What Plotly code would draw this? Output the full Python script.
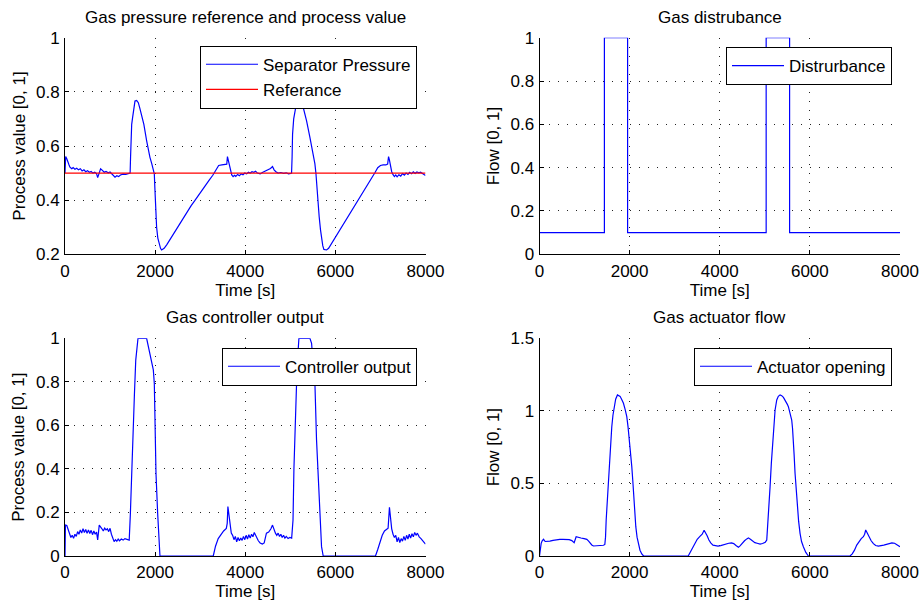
import plotly.graph_objects as go

# ---------------------------------------------------------------- data
# Separator pressure (process value) and its reference
pressure_t = [0, 15, 40, 60, 90, 110, 150, 180, 220, 260, 300, 340, 380, 420, 460, 500, 540, 580,
              620, 660, 700, 725, 760, 790, 830, 870, 910, 960, 1000, 1040, 1080, 1110, 1150, 1190,
              1230, 1290, 1350, 1410, 1445, 1455, 1464, 1480, 1500, 1525, 1553, 1590, 1627, 1660,
              1700, 1750, 1811, 1850, 1885, 1925, 1960, 1982, 1993, 2004, 2018, 2033, 2060, 2093,
              2120, 2144, 2200, 2260, 2320, 2400, 2480, 2560, 2640, 2720, 2800, 2880, 2960, 3040,
              3120, 3200, 3280, 3350, 3410, 3480, 3560, 3590, 3605, 3625, 3650, 3670, 3700, 3730,
              3760, 3790, 3830, 3870, 3910, 3950, 3990, 4030, 4070, 4110, 4150, 4190, 4230, 4270,
              4330, 4390, 4450, 4510, 4560, 4605, 4640, 4680, 4730, 4790, 4850, 4910, 4960, 5010,
              5028, 5040, 5050, 5075, 5102, 5130, 5161, 5213, 5287, 5361, 5435, 5508, 5545, 5568,
              5583, 5610, 5641, 5670, 5693, 5720, 5745, 5804, 5850, 5910, 5970, 6030, 6100, 6180,
              6260, 6340, 6420, 6500, 6580, 6660, 6740, 6820, 6880, 6940, 7000, 7060, 7120, 7160,
              7180, 7200, 7220, 7250, 7280, 7310, 7340, 7370, 7410, 7450, 7490, 7530, 7570, 7610,
              7650, 7690, 7730, 7770, 7810, 7850, 7890, 7930, 7970, 8000]
pressure_v = [0.500, 0.561, 0.553, 0.546, 0.530, 0.522, 0.516, 0.520, 0.514, 0.518, 0.512, 0.516,
              0.508, 0.512, 0.505, 0.509, 0.503, 0.506, 0.500, 0.503, 0.498, 0.483, 0.505, 0.516,
              0.510, 0.503, 0.506, 0.501, 0.504, 0.497, 0.490, 0.485, 0.490, 0.487, 0.493, 0.496,
              0.495, 0.498, 0.500, 0.560, 0.644, 0.680, 0.705, 0.740, 0.766, 0.768, 0.760, 0.740,
              0.717, 0.680, 0.620, 0.585, 0.558, 0.535, 0.516, 0.497, 0.450, 0.400, 0.340, 0.300,
              0.260, 0.234, 0.222, 0.216, 0.222, 0.236, 0.252, 0.275, 0.295, 0.318, 0.335, 0.358,
              0.380, 0.398, 0.418, 0.436, 0.455, 0.474, 0.492, 0.512, 0.528, 0.530, 0.531, 0.533,
              0.561, 0.545, 0.528, 0.505, 0.493, 0.487, 0.492, 0.488, 0.495, 0.490, 0.497, 0.494,
              0.500, 0.497, 0.503, 0.500, 0.505, 0.503, 0.507, 0.500, 0.497, 0.503, 0.508, 0.512,
              0.517, 0.524, 0.512, 0.505, 0.500, 0.502, 0.499, 0.501, 0.497, 0.499, 0.500, 0.560,
              0.644, 0.700, 0.730, 0.752, 0.766, 0.764, 0.742, 0.693, 0.632, 0.571, 0.535, 0.500,
              0.460, 0.400, 0.338, 0.290, 0.253, 0.232, 0.218, 0.216, 0.222, 0.238, 0.255, 0.272,
              0.290, 0.312, 0.332, 0.354, 0.376, 0.398, 0.418, 0.440, 0.462, 0.482, 0.502, 0.520,
              0.528, 0.530, 0.530, 0.533, 0.561, 0.548, 0.530, 0.505, 0.494, 0.487, 0.493, 0.486,
              0.494, 0.489, 0.498, 0.492, 0.500, 0.495, 0.503, 0.498, 0.505, 0.499, 0.504, 0.501,
              0.503, 0.498, 0.496, 0.491]
reference_t = [0, 8000]
reference_v = [0.5, 0.5]

# Gas disturbance (step profile)
disturbance_t = [0, 1440, 1955, 5030, 5550, 8000]
disturbance_v = [0.1, 1.0, 0.1, 1.0, 0.1, 0.1]

# Controller output
controller_t = [0, 10, 40, 70, 100, 130, 160, 190, 220, 250, 280, 310, 340, 370, 400, 430, 460, 490,
                520, 550, 580, 610, 640, 670, 700, 725, 760, 790, 820, 850, 880, 910, 940, 970, 1000,
                1030, 1060, 1090, 1120, 1150, 1180, 1210, 1250, 1290, 1330, 1380, 1425, 1450, 1480,
                1510, 1540, 1570, 1600, 1620, 1811, 1870, 1922, 1960, 1982, 1990, 2019, 2056, 2085,
                2107, 3290, 3340, 3400, 3460, 3520, 3580, 3600, 3615, 3635, 3660, 3690, 3720, 3750,
                3780, 3810, 3840, 3870, 3900, 3930, 3960, 3990, 4020, 4050, 4080, 4110, 4140, 4170,
                4200, 4230, 4260, 4290, 4330, 4380, 4420, 4470, 4520, 4570, 4605, 4640, 4670, 4700,
                4730, 4760, 4790, 4820, 4850, 4880, 4910, 4950, 4990, 5030, 5060, 5080, 5100, 5120,
                5140, 5160, 5191, 5435, 5472, 5523, 5545, 5582, 5620, 5657, 5693, 5730, 6890, 6940,
                6990, 7040, 7090, 7140, 7170, 7200, 7225, 7250, 7280, 7310, 7340, 7370, 7400, 7430,
                7460, 7490, 7520, 7550, 7580, 7610, 7640, 7670, 7700, 7730, 7760, 7790, 7820, 7860,
                7900, 7950, 8000]
controller_v = [0.000, 0.142, 0.140, 0.120, 0.104, 0.085, 0.095, 0.081, 0.100, 0.090, 0.112, 0.100,
                0.120, 0.105, 0.125, 0.108, 0.122, 0.104, 0.120, 0.103, 0.118, 0.098, 0.115, 0.100,
                0.110, 0.074, 0.142, 0.130, 0.125, 0.115, 0.128, 0.120, 0.125, 0.112, 0.127, 0.100,
                0.080, 0.066, 0.075, 0.068, 0.078, 0.070, 0.078, 0.073, 0.080, 0.075, 0.073, 0.190,
                0.400, 0.600, 0.740, 0.900, 0.985, 1.000, 1.000, 0.946, 0.893, 0.855, 0.793, 0.670,
                0.380, 0.196, 0.074, 0.000, 0.000, 0.045, 0.080, 0.100, 0.115, 0.127, 0.150, 0.227,
                0.195, 0.140, 0.105, 0.095, 0.075, 0.090, 0.065, 0.085, 0.070, 0.082, 0.072, 0.090,
                0.075, 0.095, 0.078, 0.098, 0.082, 0.100, 0.088, 0.108, 0.095, 0.085, 0.070, 0.060,
                0.055, 0.060, 0.105, 0.110, 0.125, 0.142, 0.120, 0.105, 0.095, 0.105, 0.090, 0.100,
                0.085, 0.095, 0.082, 0.090, 0.080, 0.085, 0.082, 0.165, 0.400, 0.560, 0.700, 0.800,
                0.900, 1.000, 1.000, 0.977, 0.839, 0.800, 0.533, 0.380, 0.165, 0.043, 0.000, 0.000,
                0.030, 0.065, 0.095, 0.115, 0.125, 0.128, 0.224, 0.170, 0.125, 0.100, 0.085, 0.095,
                0.065, 0.085, 0.062, 0.080, 0.068, 0.090, 0.072, 0.095, 0.078, 0.100, 0.082, 0.102,
                0.088, 0.108, 0.095, 0.105, 0.088, 0.080, 0.068, 0.055]

# Actuator flow
actuator_t = [0, 20, 37, 60, 89, 126, 170, 230, 300, 384, 450, 520, 606, 660, 717, 769, 813, 860,
              920, 990, 1050, 1090, 1124, 1160, 1198, 1260, 1320, 1380, 1420, 1450, 1465, 1480, 1495,
              1515, 1545, 1575, 1604, 1630, 1656, 1690, 1730, 1789, 1830, 1863, 1900, 1937, 1965,
              1996, 2020, 2048, 2070, 2085, 2110, 2137, 2165, 2196, 2230, 2270, 2310, 3300, 3350,
              3400, 3450, 3500, 3560, 3610, 3653, 3680, 3720, 3760, 3800, 3850, 3900, 3960, 4020,
              4080, 4140, 4200, 4260, 4310, 4360, 4414, 4450, 4500, 4550, 4600, 4636, 4680, 4730,
              4780, 4830, 4895, 4950, 5010, 5043, 5060, 5080, 5100, 5117, 5145, 5176, 5200, 5228,
              5265, 5300, 5339, 5375, 5413, 5460, 5500, 5523, 5560, 5597, 5615, 5634, 5650, 5671,
              5695, 5723, 5750, 5782, 5815, 5856, 5910, 5967, 6891, 6940, 6990, 7040, 7090, 7140,
              7187, 7215, 7239, 7270, 7310, 7360, 7410, 7460, 7520, 7580, 7640, 7700, 7760, 7820,
              7880, 7930, 7970, 8000]
actuator_v = [0.000, 0.060, 0.087, 0.105, 0.115, 0.100, 0.100, 0.103, 0.108, 0.113, 0.115, 0.115,
              0.115, 0.113, 0.106, 0.092, 0.133, 0.128, 0.124, 0.120, 0.115, 0.103, 0.087, 0.076,
              0.069, 0.069, 0.069, 0.070, 0.074, 0.080, 0.130, 0.250, 0.330, 0.480, 0.616, 0.780,
              0.891, 0.970, 1.029, 1.080, 1.110, 1.100, 1.075, 1.052, 1.010, 0.960, 0.890, 0.800,
              0.720, 0.616, 0.520, 0.432, 0.310, 0.202, 0.130, 0.087, 0.040, 0.014, 0.000, 0.000,
              0.030, 0.060, 0.095, 0.115, 0.135, 0.150, 0.178, 0.165, 0.140, 0.110, 0.090, 0.075,
              0.070, 0.068, 0.072, 0.078, 0.082, 0.088, 0.090, 0.085, 0.072, 0.060, 0.070, 0.090,
              0.105, 0.118, 0.125, 0.115, 0.100, 0.092, 0.088, 0.082, 0.086, 0.095, 0.110, 0.180,
              0.271, 0.380, 0.478, 0.640, 0.800, 0.910, 1.006, 1.075, 1.100, 1.110, 1.105, 1.093,
              1.070, 1.045, 1.029, 0.990, 0.937, 0.880, 0.800, 0.700, 0.570, 0.450, 0.340, 0.240,
              0.156, 0.100, 0.064, 0.025, 0.000, 0.000, 0.015, 0.040, 0.075, 0.100, 0.120, 0.133,
              0.150, 0.179, 0.160, 0.130, 0.105, 0.085, 0.072, 0.068, 0.070, 0.075, 0.080, 0.087,
              0.090, 0.088, 0.080, 0.072, 0.064]

# Axis ticks
time_ticks = [0, 2000, 4000, 6000, 8000]
time_labels = ["0", "2000", "4000", "6000", "8000"]
pressure_ticks = [0.2, 0.4, 0.6, 0.8, 1.0]
pressure_labels = ["0.2", "0.4", "0.6", "0.8", "1"]
unit_ticks = [0, 0.2, 0.4, 0.6, 0.8, 1.0]
unit_labels = ["0", "0.2", "0.4", "0.6", "0.8", "1"]
actuator_ticks = [0, 0.5, 1.0, 1.5]
actuator_labels = ["0", "0.5", "1", "1.5"]

# ---------------------------------------------------------------- styling
W, H = 921, 601
FONT = "Liberation Sans, Arial, Helvetica, sans-serif"
FS = 17
BLUE = "#0000ff"
RED = "#ff0000"

col_x = [(65 / W, 425.5 / W), (539.5 / W, 900 / W)]
row_y = [(1 - 254.3 / H, 1 - 37.7 / H), (1 - 556 / H, 1 - 338.3 / H)]


def xaxis_cfg(domain, anchor):
    return dict(domain=domain, anchor=anchor, range=[0, 8000], automargin=False,
                tickvals=time_ticks, ticktext=time_labels,
                showline=True, linecolor="black", linewidth=1, mirror=False,
                ticks="inside", ticklen=4, tickcolor="black",
                showgrid=True, gridcolor="#222", gridwidth=1, griddash="1px,8px",
                zeroline=False, ticklabelstandoff=1,
                title=dict(text="Time [s]", font=dict(size=FS), standoff=0))


def yaxis_cfg(domain, anchor, rng, vals, labels, title):
    return dict(domain=domain, anchor=anchor, range=rng, automargin=False,
                tickvals=vals, ticktext=labels,
                showline=True, linecolor="black", linewidth=1, mirror=False,
                ticks="inside", ticklen=4, tickcolor="black",
                showgrid=True, gridcolor="#222", gridwidth=1, griddash="1px,8px",
                zeroline=False, ticklabelstandoff=1,
                title=dict(text=title, font=dict(size=FS), standoff=6))


def legend_cfg(x, y):
    return dict(x=x, y=y, xanchor="right", yanchor="top",
                bordercolor="black", borderwidth=1, bgcolor="white",
                font=dict(size=FS, family=FONT, color="black"),
                itemwidth=52, tracegroupgap=0)


fig = go.Figure()

fig.add_trace(go.Scatter(x=pressure_t, y=pressure_v, mode="lines", name="Separator Pressure",
                         line=dict(color=BLUE, width=1.2), xaxis="x", yaxis="y", legend="legend"))
fig.add_trace(go.Scatter(x=reference_t, y=reference_v, mode="lines", name="Referance",
                         line=dict(color=RED, width=1.2), xaxis="x", yaxis="y", legend="legend"))
fig.add_trace(go.Scatter(x=disturbance_t, y=disturbance_v, mode="lines", name="Distrurbance",
                         line=dict(color=BLUE, width=1.2, shape="hv"), xaxis="x2", yaxis="y2",
                         legend="legend2"))
fig.add_trace(go.Scatter(x=controller_t, y=controller_v, mode="lines", name="Controller output",
                         line=dict(color=BLUE, width=1.2), xaxis="x3", yaxis="y3", legend="legend3"))
fig.add_trace(go.Scatter(x=actuator_t, y=actuator_v, mode="lines", name="Actuator opening",
                         line=dict(color=BLUE, width=1.2), xaxis="x4", yaxis="y4", legend="legend4"))

titles = ["Gas pressure reference and process value", "Gas distrubance",
          "Gas controller output", "Gas actuator flow"]
annotations = []
for i, text in enumerate(titles):
    r, c = divmod(i, 2)
    annotations.append(dict(text=text, xref="paper", yref="paper",
                            x=(col_x[c][0] + col_x[c][1]) / 2, y=row_y[r][1],
                            xanchor="center", yanchor="bottom", yshift=9, showarrow=False,
                            font=dict(size=FS, family=FONT, color="black")))

fig.update_layout(
    width=W, height=H,
    margin=dict(l=0, r=0, t=0, b=0, autoexpand=False),
    paper_bgcolor="white", plot_bgcolor="white",
    font=dict(family=FONT, size=FS, color="black"),
    xaxis=xaxis_cfg(col_x[0], "y"),
    yaxis=yaxis_cfg(row_y[0], "x", [0.2, 1.0], pressure_ticks, pressure_labels,
                    "Process value [0, 1]"),
    xaxis2=xaxis_cfg(col_x[1], "y2"),
    yaxis2=yaxis_cfg(row_y[0], "x2", [0, 1.0], unit_ticks, unit_labels, "Flow [0, 1]"),
    xaxis3=xaxis_cfg(col_x[0], "y3"),
    yaxis3=yaxis_cfg(row_y[1], "x3", [0, 1.0], unit_ticks, unit_labels,
                     "Process value [0, 1]"),
    xaxis4=xaxis_cfg(col_x[1], "y4"),
    yaxis4=yaxis_cfg(row_y[1], "x4", [0, 1.5], actuator_ticks, actuator_labels, "Flow [0, 1]"),
    legend=legend_cfg(417 / W, 1 - 45.7 / H),
    legend2=legend_cfg(892 / W, 1 - 47 / H),
    legend3=legend_cfg(417 / W, 1 - 347.7 / H),
    legend4=legend_cfg(892 / W, 1 - 347.7 / H),
    annotations=annotations,
    showlegend=True,
)

fig.write_html("out.html")
